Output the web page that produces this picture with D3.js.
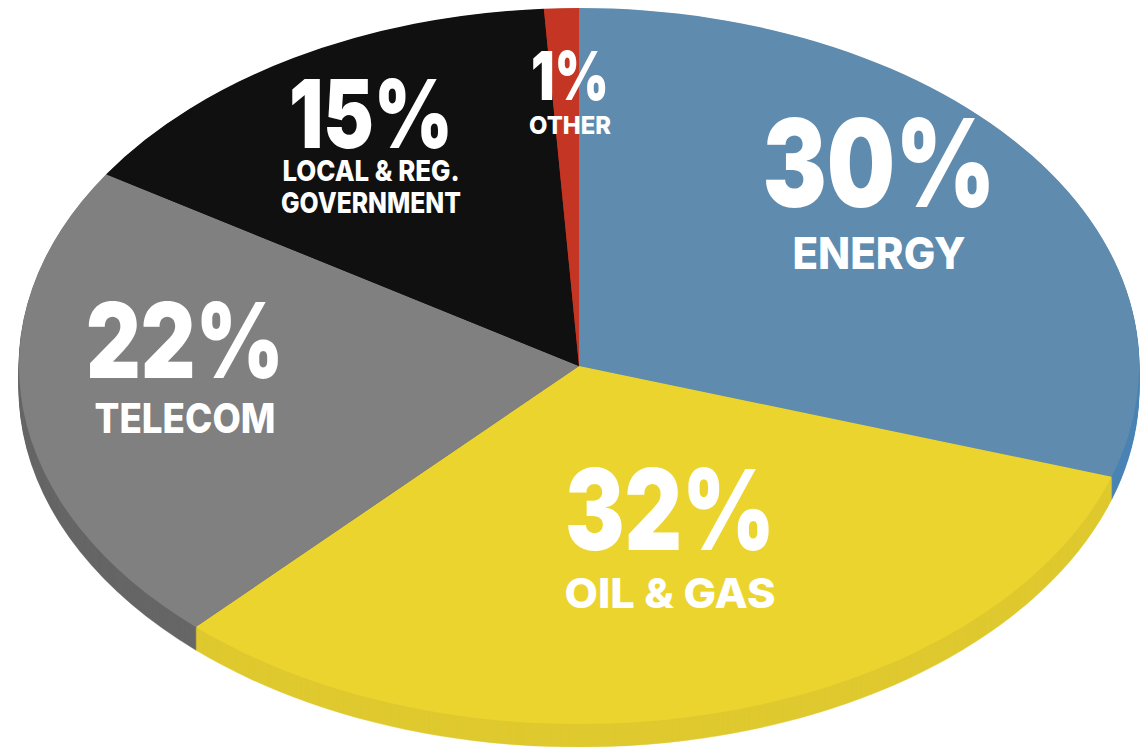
<!DOCTYPE html>
<html>
<head>
<meta charset="utf-8">
<script src="https://cdn.jsdelivr.net/npm/d3@7"></script>
<style>
  html, body { margin: 0; padding: 0; background: #fff; overflow: hidden; }
  text { font-family: Inter, "Noto Sans", sans-serif; fill: #fff; text-anchor: middle; }
</style>
</head>
<body>
<div class="pieChart"></div>
<script>
var sectors = ["ENERGY", "OIL & GAS", "TELECOM", "LOCAL & REG. GOVERNMENT", "OTHER"];
var shares = [30, 32, 22, 15, 1];
var topColors = ["#5f8bae", "#ecd42f", "#808080", "#101010", "#c43524"];
var sideColors = ["#4a84b4", "#dfc92f", "#666666", "#101010", "#a82c1e"];

// where the text sits, one row per sector
var labelLayout = [
  {x: 879, pctY: 207, pctSize: 122, pctW: 233, lines: ["ENERGY"], lineY: [269], lineW: [173], lineSize: 44},
  {x: 670, pctY: 550, pctSize: 112, pctW: 210, lines: ["OIL & GAS"], lineY: [608], lineW: [211], lineSize: 41},
  {x: 185, pctY: 378, pctSize: 104, pctW: 198, lines: ["TELECOM"], lineY: [433], lineW: [181], lineSize: 41},
  {x: 371, pctY: 148, pctSize: 95, pctW: 164, lines: ["LOCAL & REG.", "GOVERNMENT"], lineY: [181, 213], lineW: [177, 180], lineSize: 29},
  {x: 570, pctY: 100, pctSize: 68, pctW: 78, lines: ["OTHER"], lineY: [134], lineW: [82], lineSize: 25}
];

var width = 1143, height = 747;
var cx = 579, cy = 366, rx = 560, ry = 358, depth = 23;

var svg = d3.select(".pieChart").append("svg")
  .attr("width", width)
  .attr("height", height)
  .style("display", "block");

var pie = d3.pie().sort(null).value(function(d){ return d; });
var arc = d3.arc().innerRadius(0).outerRadius(rx);
var slices = pie(shares);

// side wall: the same slices stacked downwards
d3.range(depth, 0, -1).forEach(function(off){
  svg.append("g")
    .attr("transform", "translate(" + cx + "," + (cy + off) + ") scale(1," + (ry / rx) + ")")
    .selectAll("path")
    .data(slices)
    .enter()
    .append("path")
    .attr("fill", function(d, i){ return sideColors[i]; })
    .attr("stroke", function(d, i){ return sideColors[i]; })
    .attr("stroke-width", 0.6)
    .attr("d", arc);
});

var face = svg.append("g")
  .attr("transform", "translate(" + cx + "," + cy + ") scale(1," + (ry / rx) + ")");

face.selectAll("path")
  .data(slices)
  .enter()
  .append("path")
  .attr("fill", function(d, i){ return topColors[i]; })
  .attr("d", arc);

var labels = svg.selectAll("g.label")
  .data(labelLayout)
  .enter()
  .append("g")
  .attr("class", "label");

labels.append("text")
  .attr("x", function(d){ return d.x; })
  .attr("y", function(d){ return d.pctY; })
  .attr("textLength", function(d){ return d.pctW; })
  .attr("lengthAdjust", "spacingAndGlyphs")
  .style("font-size", function(d){ return d.pctSize + "px"; })
  .style("font-weight", 900)
  .text(function(d, i){ return shares[i] + "%"; });

labels.each(function(d){
  var g = d3.select(this);
  d.lines.forEach(function(line, j){
    g.append("text")
      .attr("x", d.x)
      .attr("y", d.lineY[j])
      .attr("textLength", d.lineW[j])
      .attr("lengthAdjust", "spacingAndGlyphs")
      .style("font-size", d.lineSize + "px")
      .style("font-weight", 800)
      .text(line);
  });
});
</script>
</body>
</html>
